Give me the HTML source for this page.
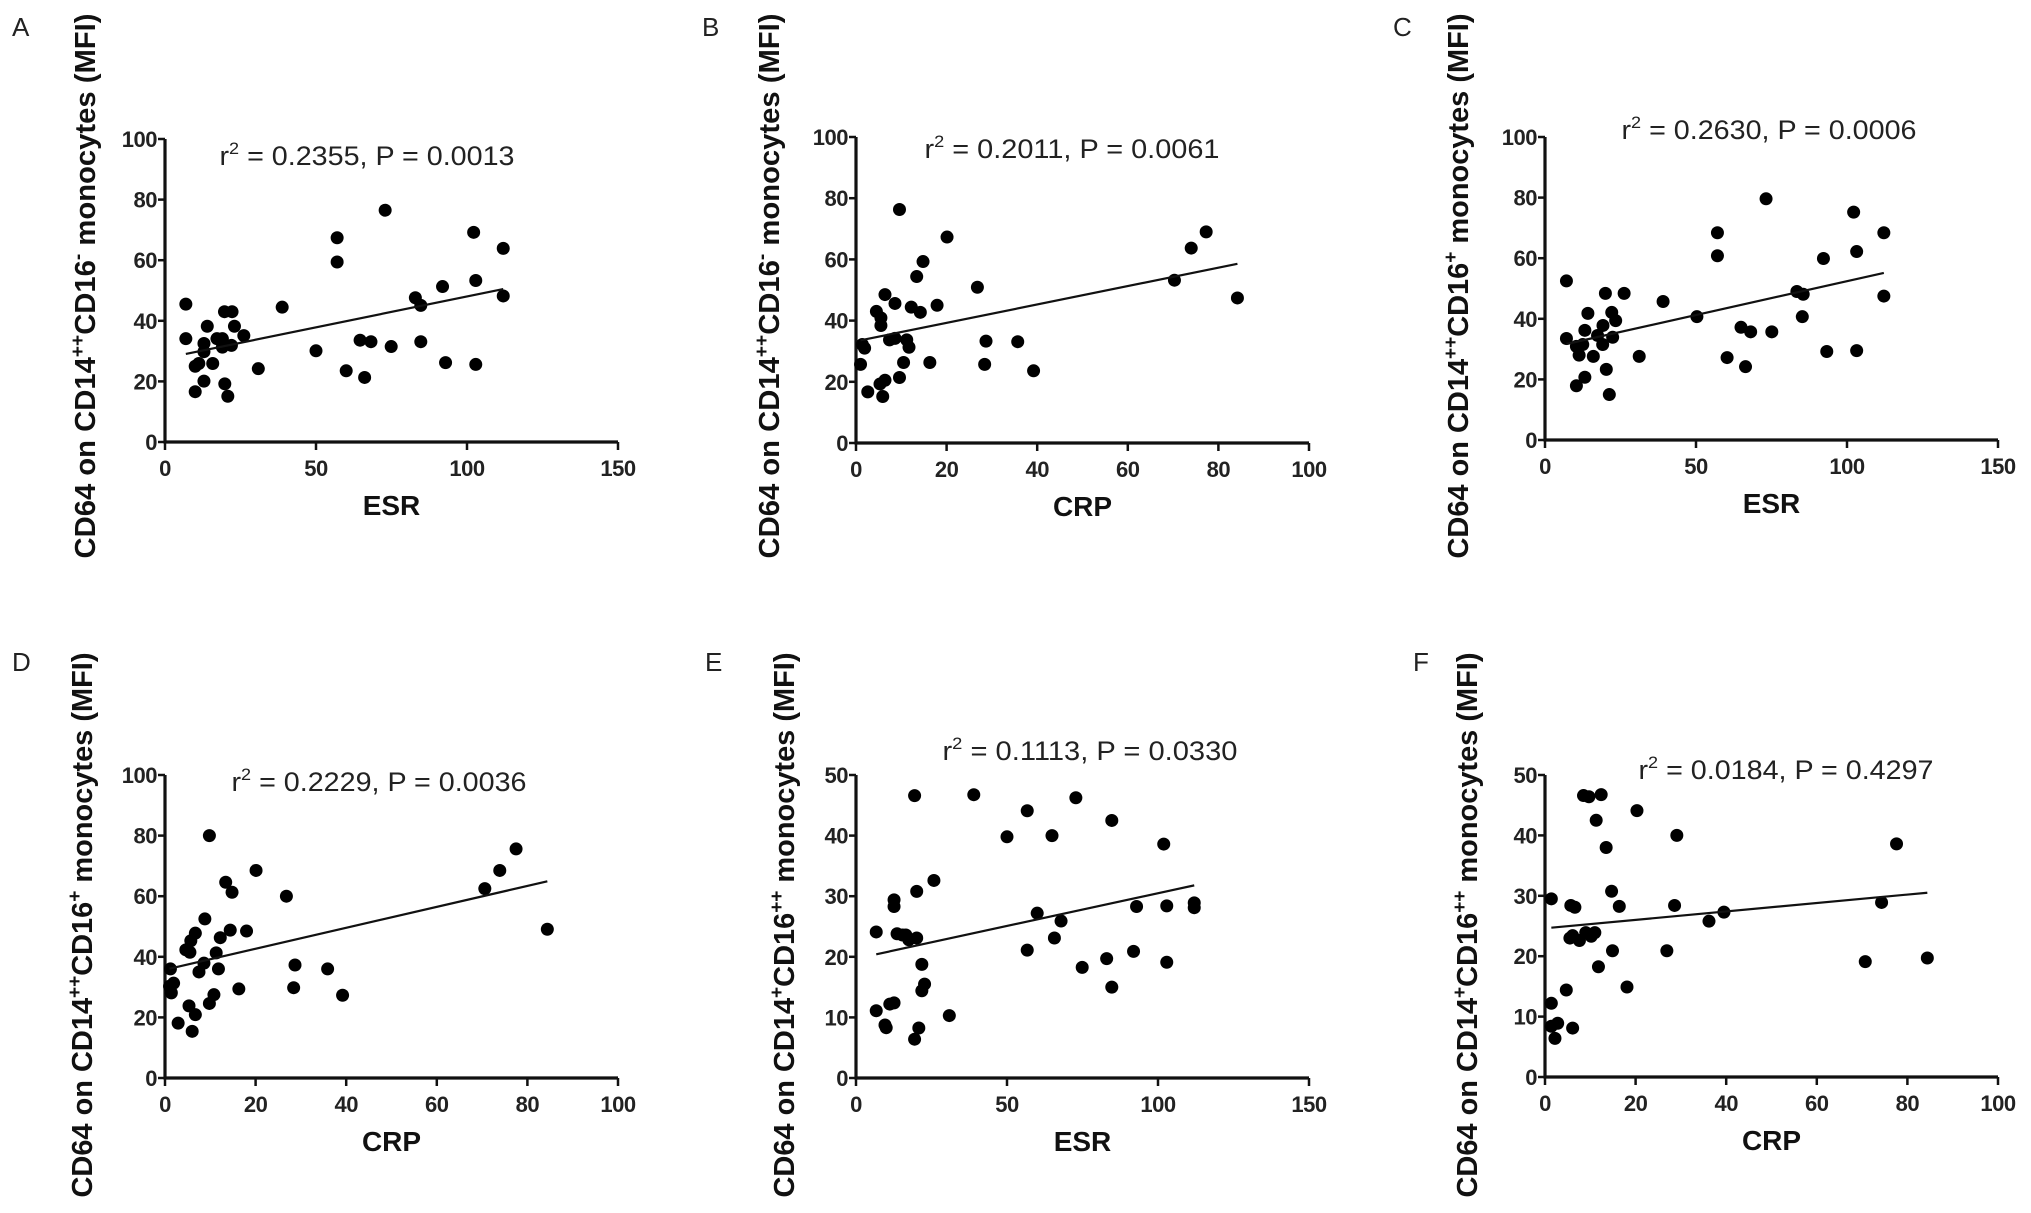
<!DOCTYPE html>
<html><head><meta charset="utf-8"><style>
html,body{margin:0;padding:0;background:#fff;}
svg{display:block;font-family:"Liberation Sans",Arial,sans-serif;}
</style></head><body>
<svg id="fig" width="2031" height="1213" viewBox="0 0 2031 1213"></svg>
<script>
// Panel A: ESR vs CD14++CD16-
const aX=[6.9,6.9,14,12.9,12.9,10,11.2,15.8,12.9,10,17.2,19,19,19.7,22.2,23,22,26.1,19.8,20.8,30.9,38.8,50,57,57,60,64.6,66.1,68.2,74.9,72.9,82.9,84.7,84.7,91.9,92.9,102.2,102.9,102.9,112,112];
const aY=[45.5,34.1,38.2,32.5,29.8,25,25.9,25.9,20.1,16.6,34.1,34.1,31.3,43,43,38.2,31.9,35.1,19.2,15.1,24.2,44.5,30.1,67.4,59.4,23.5,33.6,21.3,33.1,31.5,76.5,47.6,45.1,33.1,51.3,26.2,69.2,53.3,25.6,63.9,48.2];
// Panel B: CRP vs CD14++CD16-
const bX=[1,1.4,1.9,2.6,4.5,5.5,5.5,5.3,5.9,6.4,6.4,7.4,8.6,8.6,9.6,9.6,10.5,11.2,11.7,12.2,13.4,14.2,14.8,16.3,17.9,20.1,26.8,28.7,28.4,35.7,39.2,70.3,74,77.3,84.2];
const bY=[25.7,32.2,31,16.7,43,40.9,38.4,19.3,15.2,20.5,48.5,33.7,45.6,34.2,76.3,21.4,26.3,33.7,31.3,44.4,54.4,42.7,59.3,26.3,45,67.3,50.9,33.3,25.7,33.1,23.6,53.2,63.7,69,47.4];
// Panel C: ESR vs CD14++CD16+
const cX=[7.1,7.1,10.4,10.4,11.3,12.5,13.2,14.2,13.2,16,17.4,19.2,19.1,20,20.3,21.3,22.1,22.4,23.4,26.2,31.2,39.1,50.3,57.1,57.1,60.3,64.9,66.4,68.1,73.2,75.1,83.4,85.5,85.2,92.2,93.3,102.2,103.2,103.2,112.2,112.2];
const cY=[52.5,33.5,30.9,17.9,28,31.5,36.2,41.8,20.7,27.6,34.5,37.8,31.5,48.4,23.3,15,42.1,33.9,39.4,48.4,27.6,45.7,40.7,68.4,60.8,27.2,37.2,24.2,35.7,79.6,35.7,49,48.1,40.7,59.9,29.2,75.2,62.2,29.5,68.4,47.5];
// Panel D: CRP vs CD14++CD16+
const dX=[1.2,1,1.4,1.9,2.9,4.6,5.5,5.7,6.7,5.3,6.7,6,7.5,8.8,8.6,9.8,9.8,10.8,11.3,11.8,12.2,13.4,14.8,14.4,16.3,18,20.1,26.8,28.7,28.4,35.9,39.2,70.6,73.9,77.5,84.4];
const dY=[36,30.3,28.1,31.3,18.1,42.3,41.5,45.3,47.8,23.8,20.9,15.4,35,52.5,37.9,80,24.6,27.5,41.3,36,46.3,64.6,61.3,48.8,29.4,48.5,68.5,60,37.3,29.8,36,27.3,62.5,68.5,75.6,49.1];
// Panel E: ESR vs CD14+CD16++
const eX=[6.7,6.7,9.6,10,11.2,12.6,12.6,12.6,13.6,15.4,16.5,17.5,19.4,19.4,20.1,20.1,20.8,21.8,21.8,22.7,25.8,30.9,39,50,56.7,56.7,60,64.9,65.7,67.9,72.8,74.9,83,84.7,84.7,91.9,92.9,101.9,102.9,102.9,112,112];
const eY=[24.1,11.1,8.75,8.3,12.2,12.4,29.4,28.3,23.8,23.6,23.6,22.8,46.6,6.4,30.8,23.1,8.25,18.75,14.4,15.5,32.6,10.3,46.75,39.8,44.1,21.1,27.2,40,23.1,25.9,46.25,18.25,19.7,42.5,15,20.9,28.3,38.6,28.4,19.1,28.9,28.1];
// Panel F: CRP vs CD14+CD16++
const fX=[1.4,1.4,1.4,2.2,2.8,4.7,5.5,5.7,6.6,6.1,6.1,7.6,8.5,9.7,9,10.2,11,11.3,12.4,11.8,13.5,14.7,14.9,16.4,18.1,20.3,26.9,28.6,29.1,36.2,39.5,70.7,74.3,77.6,84.4];
const fY=[29.5,12.2,8.4,6.4,8.9,14.4,23,28.4,28.1,8.1,23.4,22.6,46.6,46.4,23.9,23.3,23.9,42.5,46.75,18.25,38,30.75,20.9,28.25,14.9,44.1,20.9,28.4,40,25.8,27.3,19.1,28.9,38.6,19.7];
// Tick labels
const esrTicks=[0,50,100,150];
const crpTicks=[0,20,40,60,80,100];
const y100Ticks=[0,20,40,60,80,100];
const y50Ticks=[0,10,20,30,40,50];
const statsA="0.2355, P = 0.0013", statsB="0.2011, P = 0.0061", statsC="0.2630, P = 0.0006", statsD="0.2229, P = 0.0036", statsE="0.1113, P = 0.0330", statsF="0.0184, P = 0.4297";

const NS="http://www.w3.org/2000/svg";
const svg=document.getElementById('fig');
function mk(tag,attrs,parent){const e=document.createElementNS(NS,tag);for(const k in attrs)e.setAttribute(k,attrs[k]);(parent||svg).appendChild(e);return e;}

function panel(p){
  const g=mk('g',{});
  
  
  const xmax=p.xt[p.xt.length-1], ymax=p.yt[p.yt.length-1];
  const sx=v=>p.x0+(v/xmax)*(p.x1-p.x0);
  const sy=v=>p.y0-(v/ymax)*(p.y0-p.y1);
  const L=mk('text',{x:p.lx,y:p.ly,'font-size':26,fill:'#222'},g);L.textContent=p.id;
  
  
  const ax=mk('path',{d:`M${p.x0},${p.y1}V${p.y0}H${p.x1}`,stroke:'#111','stroke-width':3.2,fill:'none'},g);
  
  
  p.yt.forEach(t=>{
    mk('line',{x1:p.x0-7,x2:p.x0,y1:sy(t),y2:sy(t),stroke:'#111','stroke-width':2.5},g);
    const tx=mk('text',{x:p.x0-8,y:sy(t)+8,'text-anchor':'end','font-size':22,'font-weight':'bold',fill:'#222','letter-spacing':-0.5},g);
    tx.textContent=t;
    
    
  });
  p.xt.forEach(t=>{
    mk('line',{x1:sx(t),x2:sx(t),y1:p.y0,y2:p.y0+8,stroke:'#111','stroke-width':2.5},g);
    const tx=mk('text',{x:sx(t),y:p.y0+34,'text-anchor':'middle','font-size':22,'font-weight':'bold',fill:'#222','letter-spacing':-0.5},g);
    tx.textContent=t;
    
    
  });
  const xt=mk('text',{x:(p.x0+p.x1)/2,y:p.y0+73,'text-anchor':'middle','font-size':28,'font-weight':'bold',fill:'#111'},g);
  xt.textContent=p.xl;
  
  
  const yt=mk('text',{transform:`translate(${p.yx},${p.yc}) rotate(-90)`,'text-anchor':'middle','font-size':29,'font-weight':'bold',fill:'#111',x:0,y:10,textLength:545,lengthAdjust:'spacingAndGlyphs'},g);
  
  
  const parts=[["CD64 on CD14",0,0],[p.s1,1,-11],["CD16",0,11],[p.s2,1,-11],[" monocytes (MFI)",0,11]];
  parts.forEach(([s,sup,dy])=>{const t=mk('tspan',{'font-size':sup?19:29,dy:dy},yt);t.textContent=s;});
  const st=mk('text',{x:p.tx,y:p.ty+10,'text-anchor':'middle','font-size':27,fill:'#222',textLength:295,lengthAdjust:'spacingAndGlyphs'},g);
  
  
  const t1=mk('tspan',{},st);t1.textContent='r';
  const t2=mk('tspan',{'font-size':17,dy:-11},st);t2.textContent='2';
  const t3=mk('tspan',{dy:11},st);t3.textContent=' = '+p.stats;
  p.X.forEach((v,i)=>{
    const c=mk('circle',{cx:sx(v),cy:sy(p.Y[i]),r:6.5,fill:'#000'},g);
    
    
  });
  const n=p.X.length;let mx=0,my=0;p.X.forEach((v,i)=>{mx+=v;my+=p.Y[i];});mx/=n;my/=n;
  let sxy=0,sxx=0;p.X.forEach((v,i)=>{sxy+=(v-mx)*(p.Y[i]-my);sxx+=(v-mx)*(v-mx);});
  const b=sxy/sxx,a=my-b*mx;const lo=Math.min(...p.X),hi=Math.max(...p.X);
  const ln=mk('line',{x1:sx(lo),y1:sy(a+b*lo),x2:sx(hi),y2:sy(a+b*hi),stroke:'#111','stroke-width':2.2},g);
  
  
}
panel({id:'A',x0:165,x1:618,y0:442,y1:139,xt:esrTicks,yt:y100Ticks,X:aX,Y:aY,xl:'ESR',lx:12,ly:36,yx:85,yc:286,s1:'++',s2:'-',tx:367,ty:155,stats:statsA});
panel({id:'B',x0:856,x1:1309,y0:443,y1:137,xt:crpTicks,yt:y100Ticks,X:bX,Y:bY,xl:'CRP',lx:702,ly:36,yx:769,yc:286,s1:'++',s2:'-',tx:1072,ty:148,stats:statsB});
panel({id:'C',x0:1545,x1:1998,y0:440,y1:137,xt:esrTicks,yt:y100Ticks,X:cX,Y:cY,xl:'ESR',lx:1393,ly:36,yx:1458,yc:286,s1:'++',s2:'+',tx:1769,ty:129,stats:statsC});
panel({id:'D',x0:165,x1:618,y0:1078,y1:775,xt:crpTicks,yt:y100Ticks,X:dX,Y:dY,xl:'CRP',lx:12,ly:671,yx:82,yc:925,s1:'++',s2:'+',tx:379,ty:781,stats:statsD});
panel({id:'E',x0:856,x1:1309,y0:1078,y1:775,xt:esrTicks,yt:y50Ticks,X:eX,Y:eY,xl:'ESR',lx:705,ly:671,yx:784,yc:925,s1:'+',s2:'++',tx:1090,ty:750,stats:statsE});
panel({id:'F',x0:1545,x1:1998,y0:1077,y1:775,xt:crpTicks,yt:y50Ticks,X:fX,Y:fY,xl:'CRP',lx:1413,ly:671,yx:1467,yc:925,s1:'+',s2:'++',tx:1786,ty:769,stats:statsF});
</script>
</body></html>
